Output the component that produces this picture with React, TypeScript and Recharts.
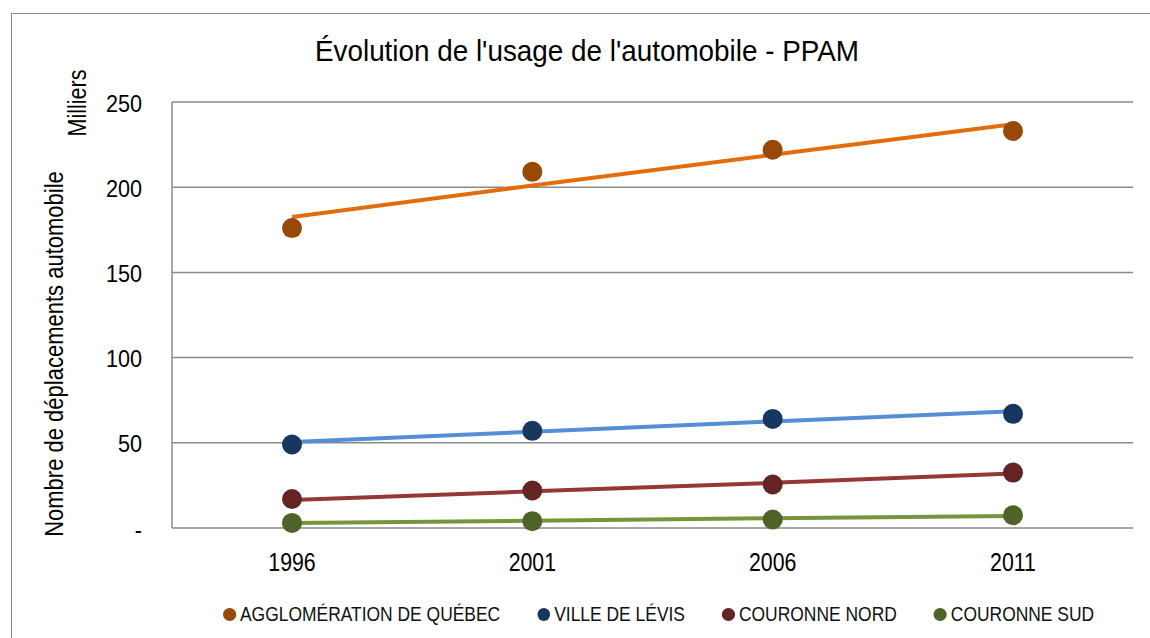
import React from "react";
import { ComposedChart, Line, XAxis, YAxis, CartesianGrid } from "recharts";

// années du PPAM
const years = ["1996", "2001", "2006", "2011"];

// déplacements automobile (milliers) — points observés
const agglo = [176, 209, 222, 233];
const levis = [49, 57, 64, 67];
const nord = [17, 22, 25.5, 32.5];
const sud = [3, 4, 5, 7.5];

// courbes de tendance
const aggloTrend = [182.5, 201, 219, 237];
const levisTrend = [50.5, 56.5, 62.5, 68.5];
const nordTrend = [16.5, 21.5, 26.5, 32];
const sudTrend = [3, 4.3, 5.7, 7];

const yTicks = [0, 50, 100, 150, 200, 250];

const series = [
  { key: "agglo", name: "AGGLOMÉRATION DE QUÉBEC", values: agglo, trend: aggloTrend, dot: "#984807", line: "#E46C0A" },
  { key: "levis", name: "VILLE DE LÉVIS", values: levis, trend: levisTrend, dot: "#17375E", line: "#558ED5" },
  { key: "nord", name: "COURONNE NORD", values: nord, trend: nordTrend, dot: "#632523", line: "#953735" },
  { key: "sud", name: "COURONNE SUD", values: sud, trend: sudTrend, dot: "#4F6228", line: "#77933C" },
];

const data = years.map((year, i) => {
  const row: Record<string, string | number> = { year };
  series.forEach((s) => {
    row[s.key] = s.values[i];
    row[s.key + "Trend"] = s.trend[i];
  });
  return row;
});

// pas d'Arial Narrow : Liberation Sans comprimée horizontalement
const FONT = '"Liberation Sans", Arial, sans-serif';
const GRID = "#8a8a8a";
const LEG = 0.83;

const makeDot = (fill: string) => (props: any) => {
  const { cx, cy, index } = props;
  if (cx == null || cy == null) return <g key={index} />;
  return <circle key={index} cx={cx} cy={cy} r={10} fill={fill} />;
};

const XTick = (props: any) => {
  const { x, y, payload } = props;
  return (
    <text
      transform={`translate(${x} ${y}) scale(0.82 1)`}
      textAnchor="middle"
      dy={21}
      fontSize={26}
      fontFamily={FONT}
      fill="#000"
    >
      {payload.value}
    </text>
  );
};

const YTick = (props: any) => {
  const { x, y, payload } = props;
  return (
    <text
      transform={`translate(${x} ${y}) scale(0.9 1)`}
      textAnchor="end"
      dy={9.5}
      fontSize={24}
      fontFamily={FONT}
      fill="#000"
    >
      {payload.value === 0 ? "-" : payload.value}
    </text>
  );
};

const rotated = (left: number, top: number, scale: number): React.CSSProperties => ({
  position: "absolute",
  left,
  top,
  transform: `translate(-50%, -50%) rotate(-90deg) scaleX(${scale})`,
  fontSize: 25,
  lineHeight: "25px",
  whiteSpace: "nowrap",
  color: "#000",
});

export default function App() {
  return (
    <div
      style={{
        position: "absolute",
        left: 0,
        top: 0,
        width: 1150,
        height: 638,
        overflow: "hidden",
        background: "#fff",
        fontFamily: FONT,
      }}
    >
      <div
        style={{
          position: "absolute",
          left: 11,
          top: 13,
          width: 1200,
          height: 700,
          border: `1.5px solid ${GRID}`,
        }}
      />
      <div
        style={{
          position: "absolute",
          left: 0,
          width: 1174,
          top: 37,
          textAlign: "center",
          fontSize: 29,
          lineHeight: "29px",
          color: "#000",
          transform: "scaleX(0.96)",
          transformOrigin: "587px 0",
        }}
      >
        Évolution de l'usage de l'automobile - PPAM
      </div>
      <div style={rotated(77, 102.5, 0.86)}>Milliers</div>
      <div style={rotated(54, 353.5, 0.88)}>Nombre de déplacements automobile</div>

      <div style={{ position: "absolute", left: 0, top: 0 }}>
        <ComposedChart
          width={1150}
          height={638}
          data={data}
          margin={{ top: 102, right: 17, bottom: 80, left: 112 }}
        >
          <CartesianGrid vertical={false} stroke={GRID} strokeWidth={1.5} />
          <XAxis
            dataKey="year"
            axisLine={false}
            tickLine={false}
            padding={{ left: 120, right: 120 }}
            tick={<XTick />}
            tickMargin={16}
          />
          <YAxis
            width={60}
            domain={[0, 250]}
            ticks={yTicks}
            interval={0}
            axisLine={{ stroke: GRID, strokeWidth: 1.5 }}
            tickLine={false}
            tickMargin={24}
            tick={<YTick />}
          />
          {series.map((s) => (
            <Line
              key={s.key}
              dataKey={s.key}
              name={s.name}
              stroke="none"
              dot={makeDot(s.dot)}
              activeDot={false}
              isAnimationActive={false}
            />
          ))}
          {series.map((s) => (
            <Line
              key={s.key + "Trend"}
              dataKey={s.key + "Trend"}
              type="linear"
              stroke={s.line}
              strokeWidth={4}
              dot={false}
              activeDot={false}
              legendType="none"
              isAnimationActive={false}
            />
          ))}
        </ComposedChart>
      </div>

      <div
        style={{
          position: "absolute",
          left: 223,
          top: 603,
          display: "flex",
          gap: 37 / LEG,
          fontSize: 21,
          lineHeight: "22px",
          color: "#111",
          transform: `scaleX(${LEG})`,
          transformOrigin: "0 0",
          whiteSpace: "nowrap",
        }}
      >
        {series.map((s) => (
          <div key={s.key} style={{ display: "flex", alignItems: "center", gap: 4 / LEG }}>
            <span
              style={{
                display: "inline-block",
                width: 13 / LEG,
                height: 13,
                borderRadius: "50%",
                background: s.dot,
              }}
            />
            <span>{s.name}</span>
          </div>
        ))}
      </div>
    </div>
  );
}
